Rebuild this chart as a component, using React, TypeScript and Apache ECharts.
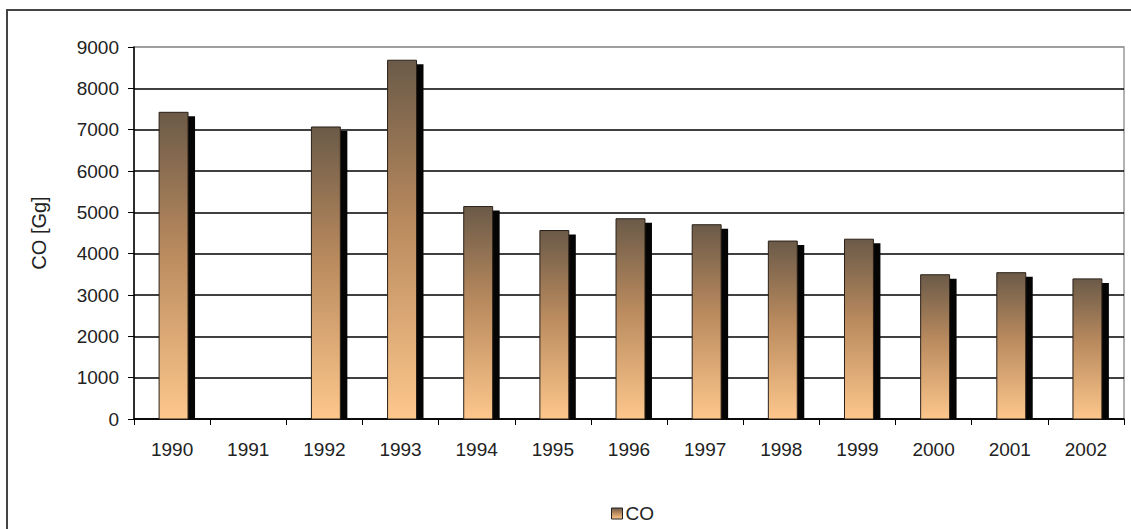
import React, { useEffect, useRef } from "react";
import * as echarts from "echarts";

const years = ["1990", "1991", "1992", "1993", "1994", "1995", "1996", "1997", "1998", "1999", "2000", "2001", "2002"];
const coValues: (number | null)[] = [7420, null, 7065, 8680, 5140, 4560, 4845, 4700, 4305, 4350, 3490, 3540, 3390];
const yTicks = [0, 9000, 1000];

const barGradient = () =>
  new echarts.graphic.LinearGradient(0, 0, 0, 1, [
    { offset: 0, color: "#6b5a48" },
    { offset: 0.45, color: "#b98a5e" },
    { offset: 1, color: "#fdc78c" },
  ]);

export default function App() {
  const ref = useRef<HTMLDivElement>(null);
  useEffect(() => {
    if (!ref.current) return;
    const chart = echarts.init(ref.current, null, { renderer: "svg" });
    const data = years.map((y, i) => [i, coValues[i]]);
    const splitColors = ["#000", "#000", "#000", "#000", "#000", "#000", "#000", "#000", "#000", "#999"];
    chart.setOption({
      animation: false,
      textStyle: { fontFamily: "Liberation Sans, Arial, sans-serif" },
      grid: {
        left: 134,
        right: 7,
        top: 47,
        bottom: 110,
        show: true,
        borderColor: "#999",
        borderWidth: 1.5,
        backgroundColor: "transparent",
      },
      graphic: [
        {
          type: "rect",
          shape: { x: 7, y: 10, width: 1140, height: 540 },
          style: { fill: "none", stroke: "#444", lineWidth: 2 },
          silent: true,
        },
      ],
      legend: {
        top: 499,
        left: 606,
        itemWidth: 11,
        itemHeight: 11,
        itemGap: 4,
        icon: "rect",
        textStyle: { fontSize: 19, color: "#222", fontFamily: "Liberation Sans, Arial, sans-serif", padding: [0, 0, 0, -2] },
        data: [{ name: "CO", itemStyle: { color: barGradient(), borderColor: "#222", borderWidth: 1 } }],
      },
      xAxis: {
        type: "category",
        data: years,
        boundaryGap: true,
        axisLine: { lineStyle: { color: "#000", width: 1.5 } },
        axisTick: { show: true, length: 6, lineStyle: { color: "#000" }, alignWithLabel: false },
        axisLabel: { fontSize: 19, color: "#222", margin: 21 },
      },
      yAxis: {
        type: "value",
        min: yTicks[0],
        max: yTicks[1],
        interval: yTicks[2],
        name: "CO [Gg]",
        nameLocation: "middle",
        nameGap: 85,
        nameRotate: 90,
        nameTextStyle: { fontSize: 20, color: "#222" },
        axisLine: { show: true, lineStyle: { color: "#000", width: 1.5 } },
        axisTick: { show: true, length: 6, lineStyle: { color: "#000" } },
        axisLabel: { fontSize: 19, color: "#222", margin: 15, formatter: (v: number) => String(v) },
        splitLine: { show: true, lineStyle: { color: splitColors, width: 1.5 } },
      },
      series: [
        {
          name: "CO",
          type: "custom",
          itemStyle: { color: barGradient() },
          data: data,
          renderItem: (params: any, api: any) => {
            const v = api.value(1);
            if (v == null || isNaN(v)) return null;
            const top = api.coord([api.value(0), v]);
            const base = api.coord([api.value(0), 0]);
            const band = api.size([1, 0])[0];
            const w = band * 0.38;
            const x = top[0] - w / 2 + 1.5;
            const h = base[1] - top[1];
            return {
              type: "group",
              children: [
                {
                  type: "rect",
                  shape: { x: x + 7, y: top[1] + 4, width: w, height: h - 4 },
                  style: { fill: "#050505" },
                },
                {
                  type: "rect",
                  shape: { x: x, y: top[1], width: w, height: h },
                  style: { fill: barGradient(), stroke: "#2a2018", lineWidth: 1 },
                },
              ],
            };
          },
        },
      ],
    });
    return () => chart.dispose();
  }, []);
  return <div ref={ref} style={{ width: 1131, height: 529, position: "absolute", left: 0, top: 0 }} />;
}
